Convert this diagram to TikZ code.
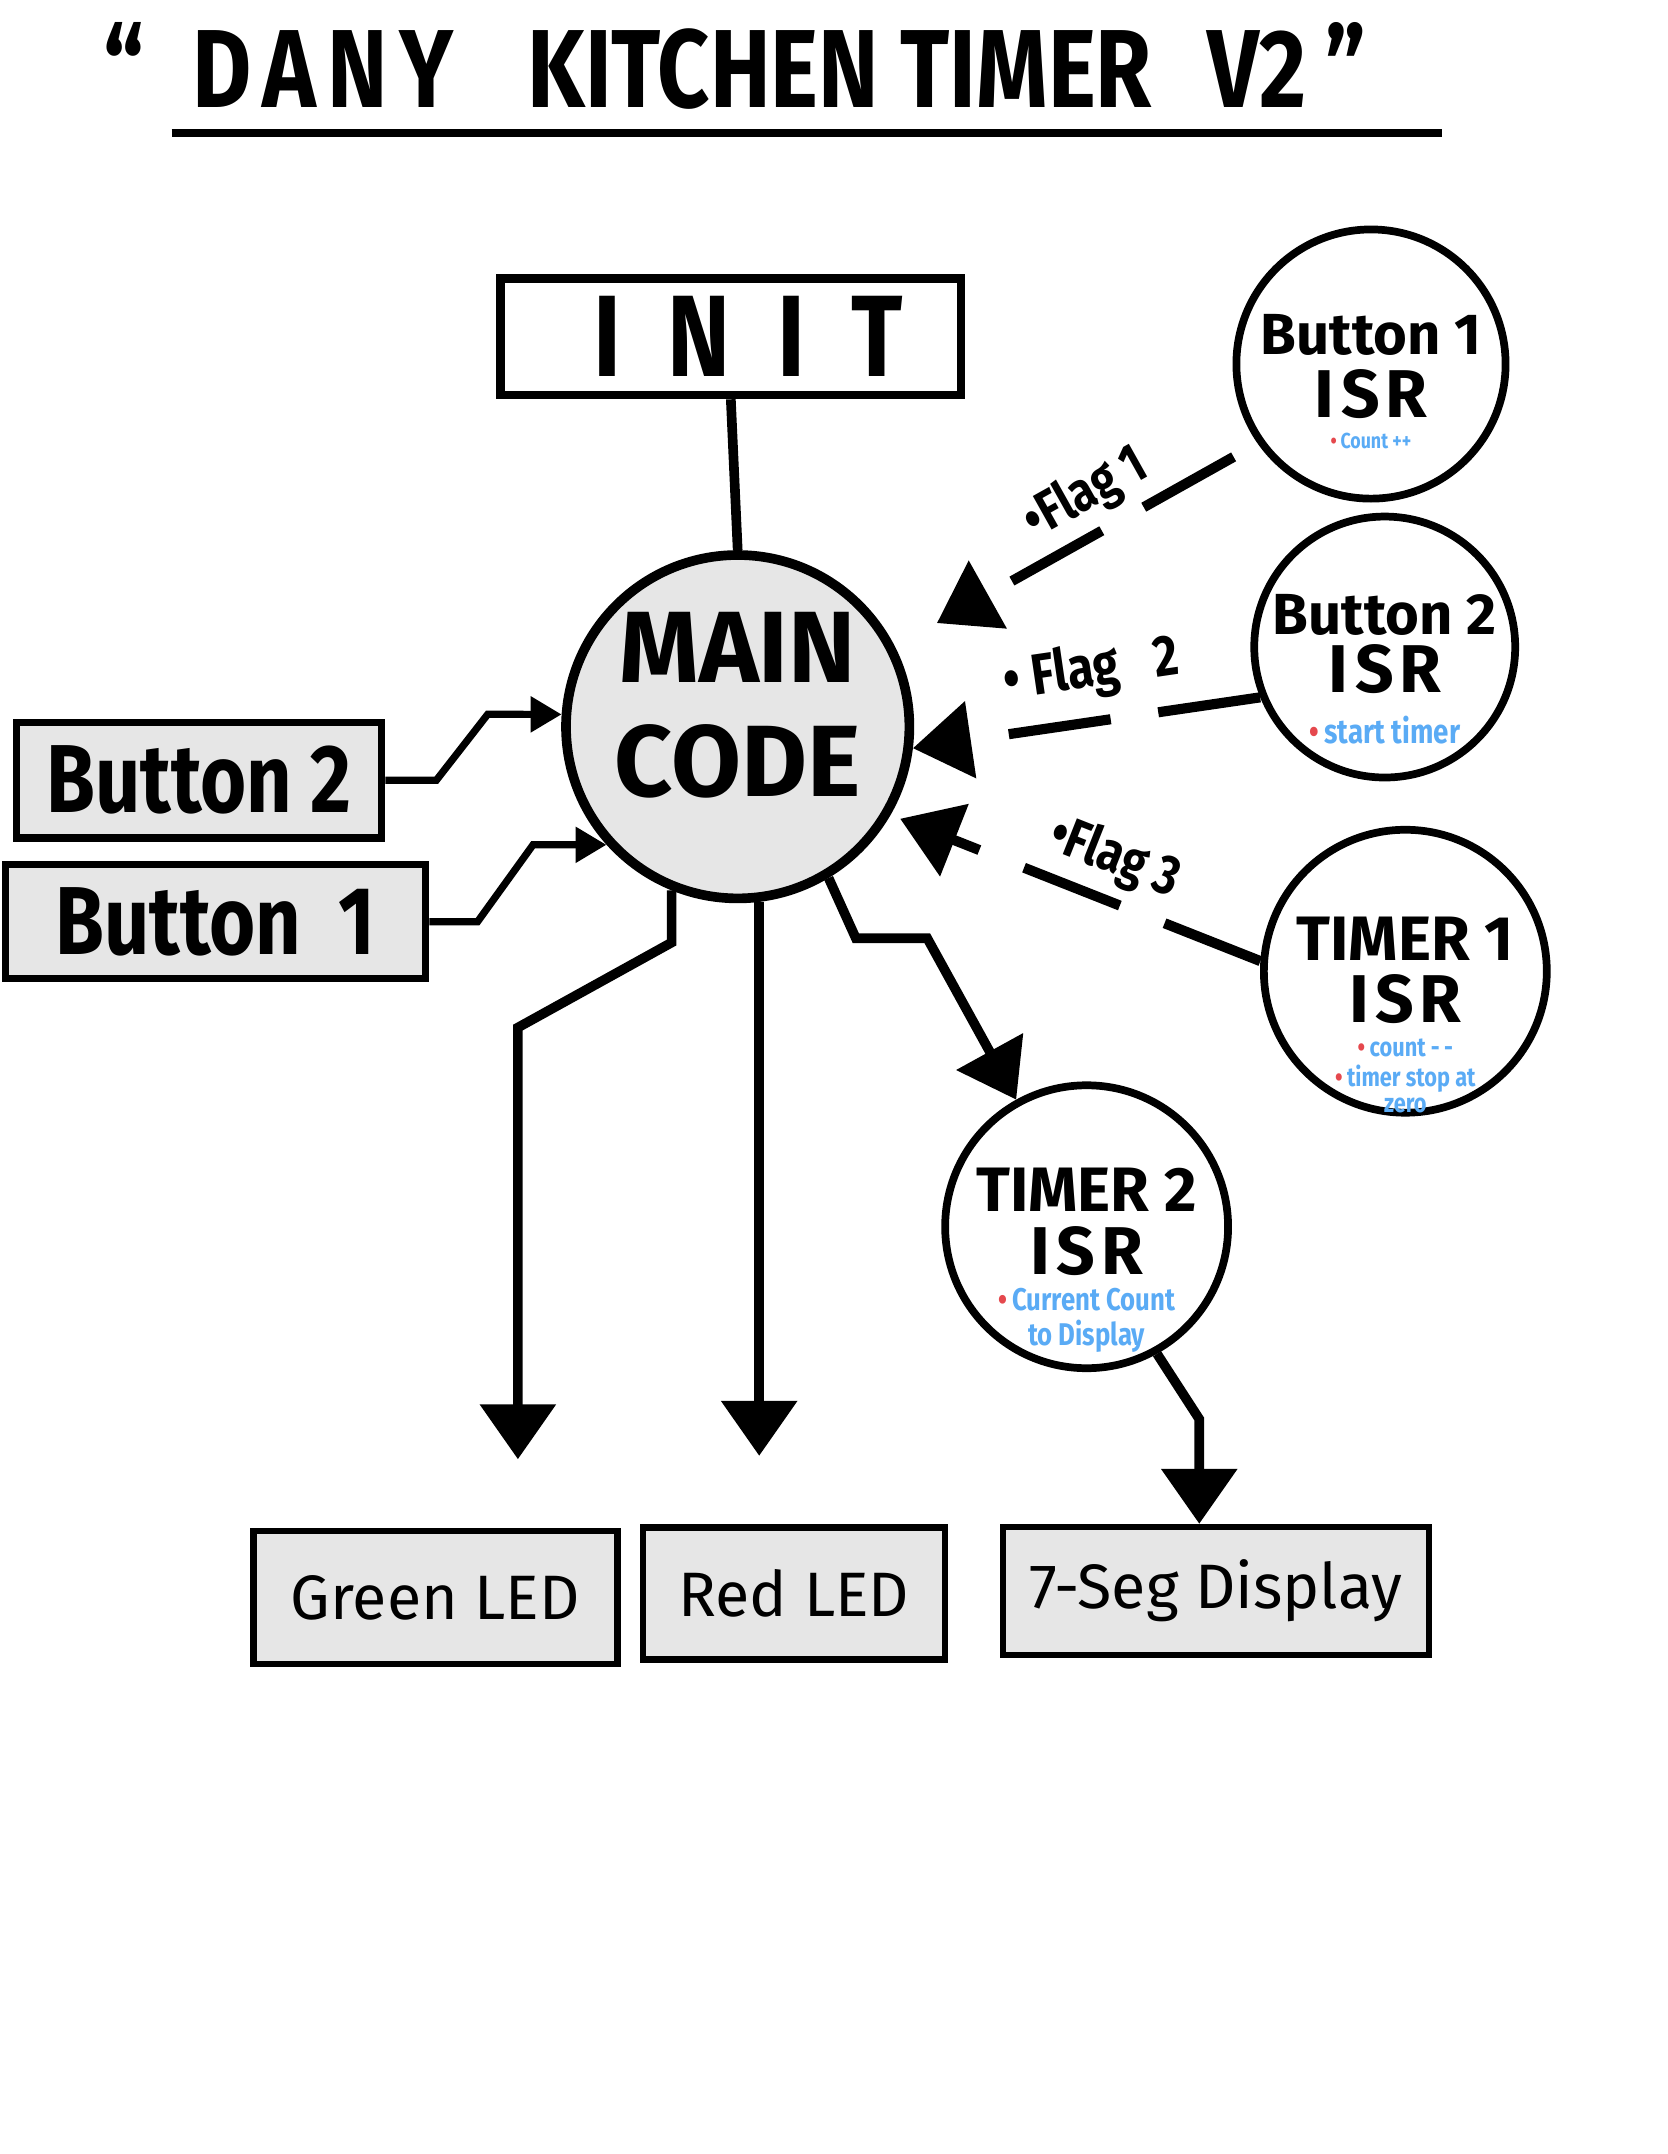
\documentclass[tikz,border=0pt]{standalone}
\usepackage{fontspec}
\setmainfont{Fira Sans}
\newfontfamily\hand[FakeStretch=0.82]{Fira Sans}
\usepackage{xcolor}
\usetikzlibrary{arrows.meta, positioning, calc}
\definecolor{paper}{HTML}{E6E6E6}
\definecolor{noteblue}{HTML}{5AABF5}
\definecolor{dotred}{HTML}{E5484D}
\newcommand{\isrnote}[2][10]{{\hand\fontsize{#1}{#1}\selectfont\begin{tabular}[t]{@{}c@{}}#2\end{tabular}}}
\newcommand{\dotnote}[1]{{\color{dotred}\textbullet}\,{\color{noteblue}#1}}
% text block whose first baseline sits #1 above the node centre
\newcommand{\intext}[2]{\makebox[0pt][c]{\raisebox{#1}[0pt][0pt]{\parbox[t]{7cm}{\centering #2}}}}
\newcommand{\isrword}{{\fontsize{28}{26}\selectfont I\hspace{0.1em}S\hspace{0.08em}R}}
\newcommand{\btnword}[1]{{\fontsize{24}{26}\selectfont #1}}

\begin{document}
\begin{tikzpicture}[
  x=0.02cm, y=-0.02cm,
  box/.style={rectangle, draw=black, line width=3pt, fill=paper, inner sep=0pt, font=\hand\bfseries\fontsize{40}{42}\selectfont},
  outbox/.style={rectangle, draw=black, line width=2.6pt, fill=paper, inner sep=0pt, font=\fontsize{26}{28}\selectfont},
  isr/.style={circle, draw=black, line width=3.2pt, fill=white, inner sep=0pt, font=\bfseries\fontsize{26}{26}\selectfont},
  hub/.style={circle, draw=black, line width=4pt, fill=paper, minimum size=5cm, inner sep=0pt, font=\bfseries\fontsize{42}{47}\selectfont},
  arrow/.style={-{Triangle[length=0.8cm, width=1.08cm]}, line width=4pt, black},
  smallarrow/.style={-{Triangle[length=0.45cm, width=0.5cm]}, line width=3pt, black},
  flag/.style={-{Triangle[length=0.85cm, width=1.1cm]}, line width=4.2pt, black, dash pattern=on 1.5cm off 0.7cm},
  flaglbl/.style={inner sep=1pt, font=\hand\bfseries\fontsize{23}{25}\selectfont}
]
  \useasboundingbox (0,0) rectangle (1214,1568);

  % title
  \node[font=\hand\bfseries\fontsize{46}{48}\selectfont] (title) at (535,48)
    {“\hspace{0.43em}D\hspace{0.1em}A\hspace{0.1em}N\hspace{0.1em}Y\hspace{0.67em}KITCHEN TIMER\hspace{0.5em}V2\,”};
  \coordinate (ulstart) at (125,97);
  \coordinate (ulend) at (1050,97);
  \draw[line width=3.4pt] (ulstart) -- (ulend);

  % main blocks
  \node[rectangle, draw=black, line width=3.6pt, minimum width=6.7cm, minimum height=1.7cm, font=\hand\bfseries\fontsize{48}{50}\selectfont] (init) at (532,245)
    {\hspace{0.3em}I\hspace{0.4em}N\hspace{0.4em}I\hspace{0.4em}T};
  \node[hub] (main) at (537,529) {\intext{0.64cm}{MAIN\\CODE}};
  \node[box, minimum width=5.32cm, minimum height=1.68cm] (btntwo) at (145,568) {Button 2};
  \node[box, minimum width=6.12cm, minimum height=1.66cm] (btnone) at (157,671) {Button\ \ 1};

  % interrupt routines
  \node[isr, minimum size=3.92cm] (isrone) at (998,265)
    {\intext{0.14cm}{\btnword{Button 1}\\\isrword\\[-13pt]\isrnote[9]{\dotnote{Count ++}}}};
  \node[isr, minimum size=3.8cm] (isrtwo) at (1008,471)
    {\intext{0.18cm}{\btnword{Button 2}\\[-2pt]\isrword\\[-5pt]\isrnote[14]{\dotnote{start timer}}}};
  \node[isr, minimum size=4.12cm] (tmrone) at (1023,707)
    {\intext{0.16cm}{TIMER 1\\\isrword\\[-12pt]\isrnote[11]{\dotnote{count -\,-}\\\dotnote{timer stop at}\\{\color{noteblue}zero}}}};
  \node[isr, minimum size=4.12cm] (tmrtwo) at (791,893)
    {\intext{0.22cm}{TIMER 2\\\isrword\\[-11pt]\isrnote[13]{\dotnote{Current Count}\\{\color{noteblue}to Display}}}};

  % outputs
  \node[outbox, minimum width=5.3cm, minimum height=1.94cm] (green) at (317,1163) {Green LED};
  \node[outbox, minimum width=4.4cm, minimum height=1.92cm] (red) at (578,1160) {Red LED};
  \node[outbox, minimum width=6.2cm, minimum height=1.86cm] (seg) at (885,1158) {7-Seg Display};

  \draw[line width=4pt] (init.south) -- (main.north);

  \draw[smallarrow] (btntwo.east) -- ++(37,0) -- (355,520) -- (main.176);
  \draw[smallarrow] (btnone.east) -- ++(35,0) -- (388,615) -- (main.222);

  \draw[flag, shorten <=0.4cm, shorten >=0.7cm] (isrone.215) -- (main.27)
    node[pos=0.42, above=2pt, sloped, flaglbl] {\textbullet Flag 1};
  \draw[flag] (isrtwo.202) -- (main.-7)
    node[pos=0.465, above=6pt, sloped, flaglbl, font=\hand\bfseries\fontsize{24}{26}\selectfont] {\textbullet\ Flag\hspace{0.6em}2};
  \draw[flag, shorten >=0.15cm] (tmrone.176) -- (main.-30)
    node[pos=0.437, above=3pt, sloped, flaglbl] {\textbullet Flag 3};

  \draw[arrow] (main.-59) -- (623,683) -- (675,683) -- (tmrtwo.119);

  \coordinate (gbend) at (377,748);
  \draw[arrow, shorten >=1cm] (main.248) -- ++(0,38) -- (gbend) -- (gbend |- green.north);
  \draw[arrow, shorten >=1cm] (main.277) -- (main.277 |- red.north);

  \coordinate (sbend) at (873,1033);
  \draw[arrow] (tmrtwo.-61) -- (sbend) -- (sbend |- seg.north);
\end{tikzpicture}
\end{document}
